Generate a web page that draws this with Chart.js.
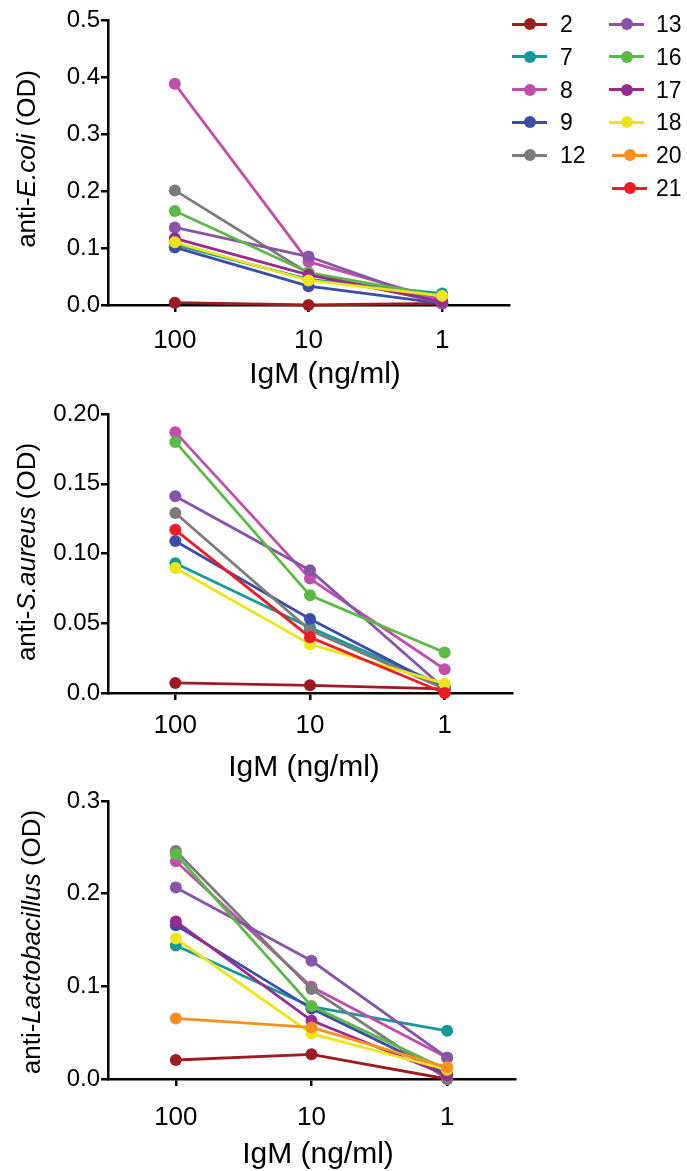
<!DOCTYPE html>
<html>
<head>
<meta charset="utf-8">
<title>IgM binding</title>
<script src="https://cdn.jsdelivr.net/npm/chart.js@4.4.1/dist/chart.umd.min.js"></script>
<style>
  body { margin: 0; background: #fff; font-family: 'Liberation Sans', Arial, sans-serif; color: #000; }
  #page { position: relative; width: 687px; height: 1171px; overflow: hidden; }
  canvas { position: absolute; left: 0; }
  .ytitle { position: absolute; white-space: nowrap; font-size: 26px; line-height: 1; transform: translate(-50%, -50%) rotate(-90deg); }
  .xtitle { position: absolute; white-space: nowrap; font-size: 30px; line-height: 1; transform: translate(-50%, -50%); }
  .key { position: absolute; width: 0; height: 0; }
  .key .ln { position: absolute; top: -1.5px; height: 3px; width: 35px; }
  .key .dot { position: absolute; top: -6px; width: 12px; height: 12px; border-radius: 50%; }
  .key .lbl { position: absolute; top: -12px; font-size: 23px; line-height: 24px; }
</style>
</head>
<body>
<div id="page">
  <canvas id="ecoliChart" width="540" height="365"></canvas>
  <canvas id="saureusChart" width="540" height="359"></canvas>
  <canvas id="lactoChart" width="540" height="358"></canvas>

  <div class="ytitle" style="left:26px; top:159px;">anti-<i>E.coli</i> (OD)</div>
  <div class="ytitle" style="left:26px; top:552px;">anti-<i>S.aureus</i> (OD)</div>
  <div class="ytitle" style="left:31px; top:942px;">anti-<i>Lactobacillus</i> (OD)</div>

  <div class="xtitle" style="left:325px; top:373px;">IgM (ng/ml)</div>
  <div class="xtitle" style="left:304px; top:766px;">IgM (ng/ml)</div>
  <div class="xtitle" style="left:318px; top:1153px;">IgM (ng/ml)</div>

  <div id="legend"></div>
</div>

<script>
// IgM dilutions on the x axis
const doses = ['100', '10', '1'];

// donors and their line colours
const donors = ['2', '7', '8', '9', '12', '13', '16', '17', '18', '20', '21'];
const donorColors = ['#9e1b22', '#17999a', '#c04fab', '#3d4ca6', '#7b7b7b', '#8854a8',
                     '#5cb947', '#992a8f', '#eee41c', '#f7901e', '#ec1c24'];

// OD readings per donor at 100, 10, 1 ng/ml (null = not measured)
const ecoliOD = [
  [0.004, 0.000, 0.003],
  [0.106, 0.045, 0.020],
  [0.388, 0.076, 0.009],
  [0.101, 0.033, 0.003],
  [0.201, 0.056, 0.004],
  [0.136, 0.085, 0.002],
  [0.165, 0.057, 0.015],
  [0.117, 0.053, 0.006],
  [0.110, 0.043, 0.016],
  null,
  null
];

const saureusOD = [
  [0.0072, 0.0055, 0.003],
  [0.093, 0.047, 0.005],
  [0.187, 0.082, 0.017],
  [0.109, 0.053, 0.003],
  [0.129, 0.045, 0.003],
  [0.141, 0.088, 0.003],
  [0.180, 0.070, 0.029],
  null,
  [0.0896, 0.035, 0.0067],
  null,
  [0.117, 0.040, 0.000]
];

const lactoOD = [
  [0.0205, 0.0266, 0.000],
  [0.144, 0.078, 0.052],
  [0.235, 0.0995, 0.023],
  [0.166, 0.076, 0.005],
  [0.246, 0.097, 0.000],
  [0.2066, 0.1276, 0.023],
  [0.2425, 0.0787, 0.010],
  [0.170, 0.063, 0.004],
  [0.1516, 0.049, 0.010],
  [0.0654, 0.0557, 0.0126],
  null
];

// y tick labels
const ecoliTicks = ['0.0', '0.1', '0.2', '0.3', '0.4', '0.5'];
const saureusTicks = ['0.0', '0.05', '0.10', '0.15', '0.20'];
const lactoTicks = ['0.0', '0.1', '0.2', '0.3'];

const FONT = "'Liberation Sans', Arial, sans-serif";

// plot area of each panel in page pixels
const panels = [
  { id: 'ecoliChart',   values: ecoliOD,   ticks: ecoliTicks,   top: 20,  bottom: 305,  right: 509, xPad: 13 },
  { id: 'saureusChart', values: saureusOD, ticks: saureusTicks, top: 414, bottom: 693,  right: 512, xPad: 10 },
  { id: 'lactoChart',   values: lactoOD,   ticks: lactoTicks,   top: 801, bottom: 1079, right: 515, xPad: 16 }
];

const TOP_PAD = 20;
const X_AXIS_H = 60;
const Y_AXIS_W = 108;

function makePanel(p) {
  const canvas = document.getElementById(p.id);
  canvas.style.top = (p.top - TOP_PAD) + 'px';
  canvas.height = p.bottom - p.top + TOP_PAD + X_AXIS_H;

  const datasets = [];
  donors.forEach((d, i) => {
    if (!p.values[i]) return;
    datasets.push({
      label: d,
      data: p.values[i],
      borderColor: donorColors[i],
      backgroundColor: donorColors[i],
      borderWidth: 2.8,
      pointRadius: 6,
      pointBorderWidth: 0,
      pointHoverRadius: 6,
      tension: 0,
      clip: false,
      order: -i
    });
  });

  const tickValues = p.ticks.map(t => parseFloat(t));

  return new Chart(canvas.getContext('2d'), {
    type: 'line',
    data: { labels: doses, datasets: datasets },
    options: {
      responsive: false,
      animation: false,
      events: [],
      layout: {
        autoPadding: false,
        padding: { left: 0, top: TOP_PAD, right: 540 - p.right, bottom: 0 }
      },
      plugins: { legend: { display: false }, tooltip: { enabled: false } },
      scales: {
        x: {
          type: 'category',
          offset: true,
          grid: { display: true, offset: false, drawOnChartArea: false, drawTicks: true, tickLength: 7, color: '#000', lineWidth: 2.5 },
          border: { display: true, color: '#000', width: 2.5 },
          ticks: { color: '#000', font: { family: FONT, size: 26 }, padding: p.xPad, maxRotation: 0 },
          afterFit: s => { s.height = X_AXIS_H; }
        },
        y: {
          min: 0,
          max: tickValues[tickValues.length - 1],
          grid: { display: true, drawOnChartArea: false, drawTicks: true, tickLength: 7, color: '#000', lineWidth: 2.5 },
          border: { display: true, color: '#000', width: 2.5 },
          ticks: {
            color: '#000',
            font: { family: FONT, size: 24 },
            padding: 1,
            callback: (v, idx) => p.ticks[idx]
          },
          afterBuildTicks: s => { s.ticks = tickValues.map(v => ({ value: v })); },
          afterFit: s => { s.width = Y_AXIS_W; }
        }
      }
    }
  });
}

panels.forEach(makePanel);

// legend: two columns of line + dot + donor number
const legend = document.getElementById('legend');
donors.forEach((d, i) => {
  const col = i < 5 ? 0 : 1;
  const row = i < 5 ? i : i - 5;
  const lineLeft = col === 0 ? 512 : 609 + (row >= 4 ? 3 : 0);
  const textLeft = col === 0 ? 560 : 656;
  const key = document.createElement('div');
  key.className = 'key';
  key.style.left = lineLeft + 'px';
  key.style.top = (24 + row * 32.8) + 'px';
  key.innerHTML =
    '<div class="ln" style="left:0; background:' + donorColors[i] + '"></div>' +
    '<div class="dot" style="left:12px; background:' + donorColors[i] + '"></div>' +
    '<div class="lbl" style="left:' + (textLeft - lineLeft) + 'px">' + d + '</div>';
  legend.appendChild(key);
});
</script>
</body>
</html>
